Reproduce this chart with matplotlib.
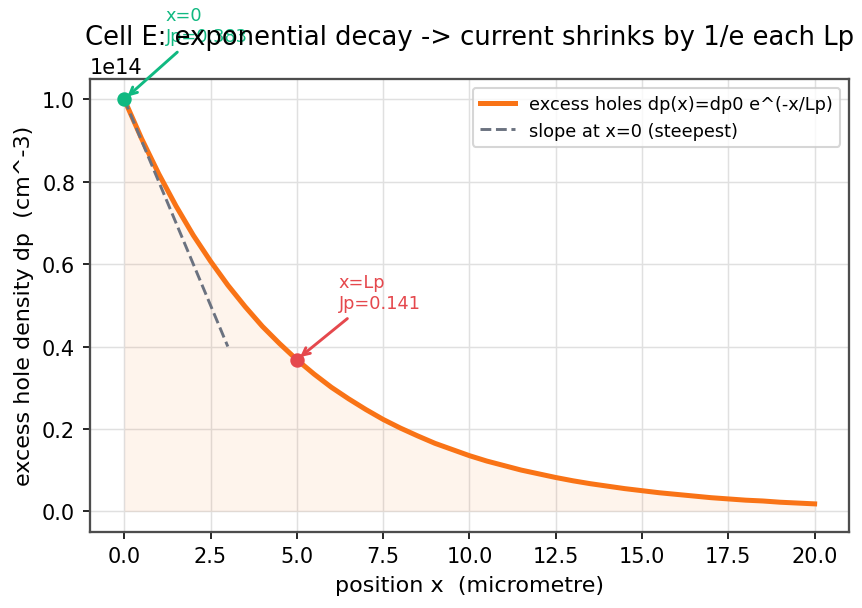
import numpy as np
import matplotlib.pyplot as plt

# positions (micrometre) and excess hole density
x_um = [0.0, 0.5, 1.0, 1.5, 2.0, 2.5, 3.0, 3.5, 4.0, 4.5, 5.0, 5.5, 6.0, 6.5,
        7.0, 7.5, 8.0, 8.5, 9.0, 9.5, 10.0, 10.5, 11.0, 11.5, 12.0, 12.5,
        13.0, 13.5, 14.0, 14.5, 15.0, 15.5, 16.0, 16.5, 17.0, 17.5, 18.0,
        18.5, 19.0, 19.5, 20.0]
dp_rel = [1.000, 0.905, 0.819, 0.741, 0.670, 0.607, 0.549, 0.497, 0.449,
          0.407, 0.368, 0.333, 0.301, 0.273, 0.247, 0.223, 0.202, 0.183,
          0.165, 0.150, 0.135, 0.122, 0.111, 0.100, 0.091, 0.082, 0.074,
          0.067, 0.061, 0.055, 0.050, 0.045, 0.041, 0.037, 0.033, 0.030,
          0.027, 0.025, 0.022, 0.020, 0.018]
dp0 = 1e14

# tangent at x=0
slope_x = [0.0, 3.0]
slope_y = [1.0, 0.4]

# marked points
pt0 = (0.0, 1.0)
ptL = (5.0, 0.368)
jp0_label = "x=0\nJp=0.383"
jpL_label = "x=Lp\nJp=0.141"

orange = "#f97316"
green = "#10b981"
red = "#e5484d"
gray = "#6b7280"

plt.rcParams.update({
    "axes.edgecolor": "#4d4d4d",
    "axes.linewidth": 1.1,
    "grid.color": "#e0e0e0",
    "grid.linewidth": 0.7,
    "xtick.labelsize": 10,
    "ytick.labelsize": 10,
    "axes.labelsize": 10.7,
})

x = np.array(x_um)
dp = np.array(dp_rel) * dp0

fig, ax = plt.subplots(figsize=(5.753, 4.06), dpi=150)

ax.fill_between(x, 0, dp, color=orange, alpha=0.08, linewidth=0)
ax.plot(x, dp, color=orange, lw=2.4, label="excess holes dp(x)=dp0 e^(-x/Lp)")
ax.plot(slope_x, np.array(slope_y) * dp0, color=gray, lw=1.4, ls="--",
        label="slope at x=0 (steepest)")

ax.scatter([pt0[0]], [pt0[1] * dp0], color=green, s=35, zorder=5)
ax.scatter([ptL[0]], [ptL[1] * dp0], color=red, s=35, zorder=5)

ax.annotate(jp0_label, xy=(pt0[0], pt0[1] * dp0), xytext=(20, 26),
            textcoords="offset points", color=green, fontsize=8.5, va="bottom",
            arrowprops=dict(arrowstyle="->", color=green, lw=1.4))
ax.annotate(jpL_label, xy=(ptL[0], ptL[1] * dp0), xytext=(20, 23),
            textcoords="offset points", color=red, fontsize=8.5, va="bottom",
            arrowprops=dict(arrowstyle="->", color=red, lw=1.4))

ax.set_xlabel("position x  (micrometre)")
ax.set_ylabel("excess hole density dp  (cm^-3)")
ax.set_title("Cell E: exponential decay -> current shrinks by 1/e each Lp", fontsize=12.4)
ax.grid(True)
ax.set_axisbelow(True)
ax.legend(loc="upper right", fontsize=8.5)

fig.subplots_adjust(left=0.104, right=0.984, top=0.869, bottom=0.125)
fig.savefig("out.png")
